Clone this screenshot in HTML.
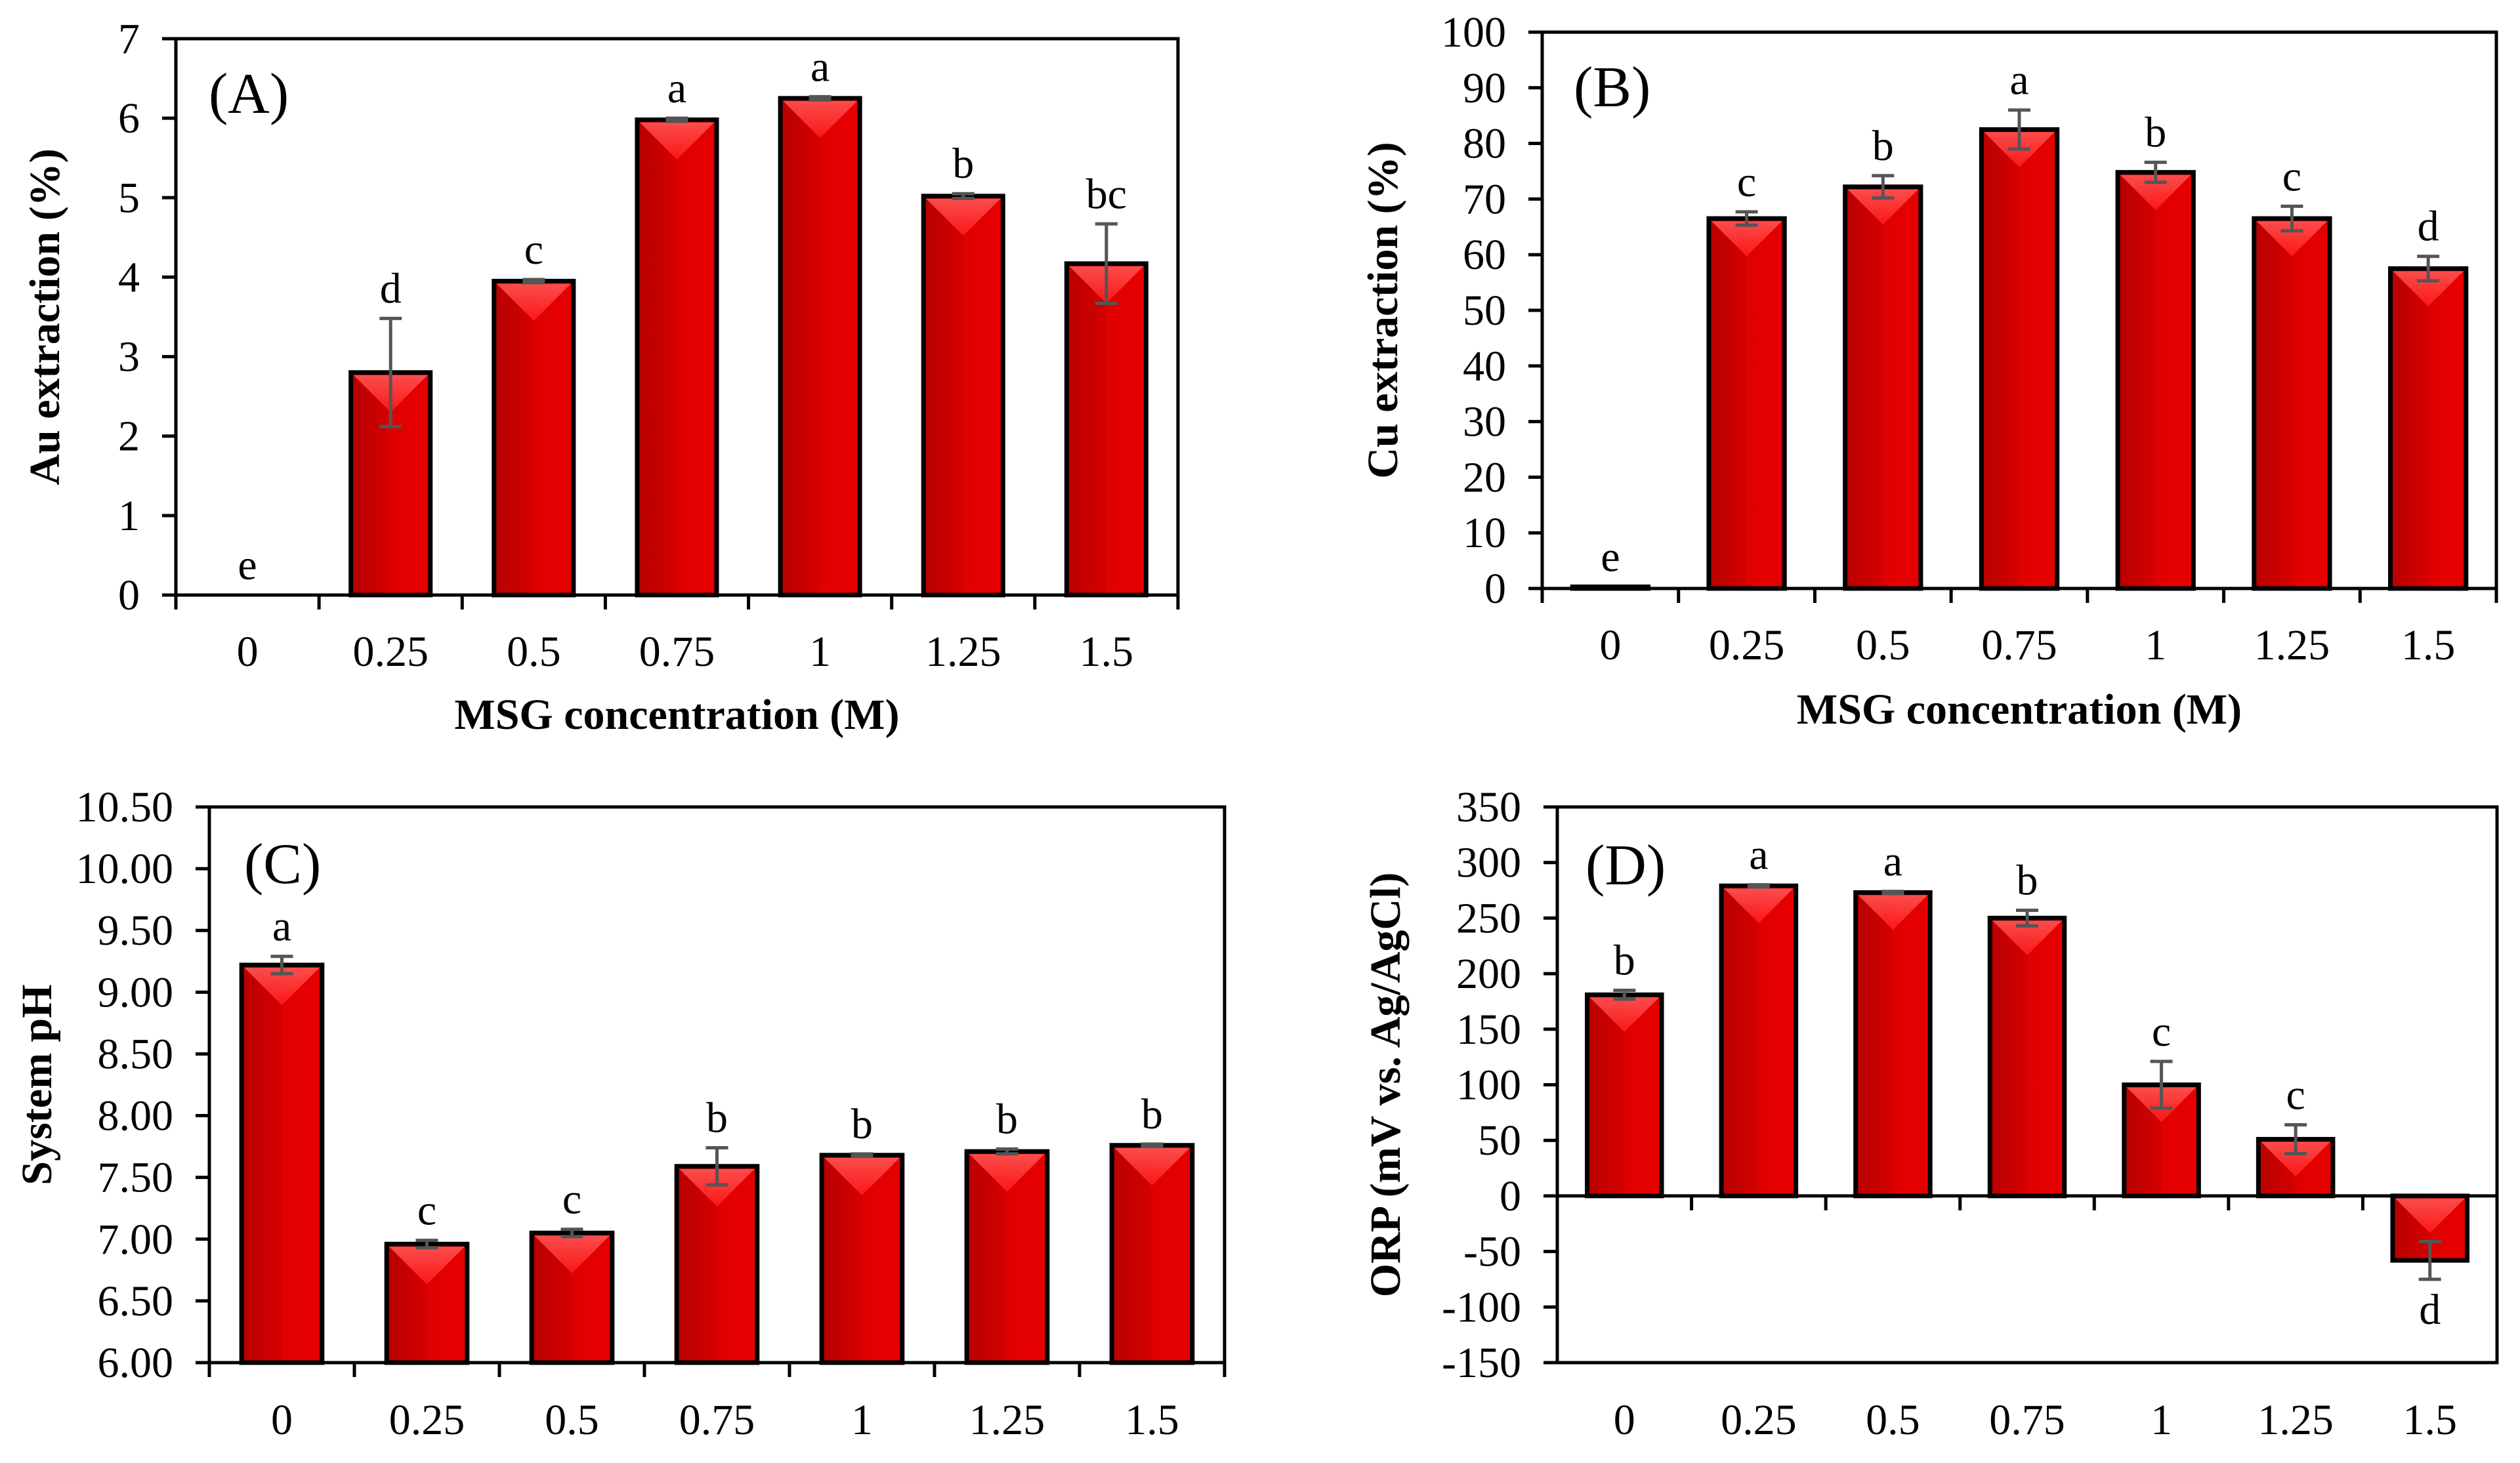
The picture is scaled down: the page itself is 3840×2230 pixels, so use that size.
<!DOCTYPE html>
<html><head><meta charset="utf-8"><style>
html,body{margin:0;padding:0;background:#fff;width:3840px;height:2230px;overflow:hidden;}
svg{display:block;font-family:"Liberation Serif",serif;}
</style></head><body>
<svg id="fig" width="3840" height="2230" viewBox="0 0 3840 2230" xmlns="http://www.w3.org/2000/svg">
<defs>
<linearGradient id="barg" x1="0" x2="1" y1="0" y2="0"><stop offset="0" stop-color="#b80000"/><stop offset="0.5" stop-color="#d40000"/><stop offset="0.5" stop-color="#e00000"/><stop offset="1" stop-color="#e60000"/></linearGradient>
<linearGradient id="topg" x1="0" x2="0" y1="0" y2="1"><stop offset="0" stop-color="#ff5555"/><stop offset="1" stop-color="#ff1a1a"/></linearGradient>
</defs>
</svg>
<script>
const categories = ["0","0.25","0.5","0.75","1","1.25","1.5"];
const auValues = [0, 2.8, 3.95, 5.98, 6.25, 5.02, 4.17];
const auErrors = [0, 0.68, 0.02, 0.02, 0.02, 0.03, 0.5];
const auLetters = ["e","d","c","a","a","b","bc"];
const auTicks = ["0","1","2","3","4","5","6","7"];
const cuValues = [0.3, 66.5, 72.2, 82.5, 74.8, 66.5, 57.5];
const cuErrors = [0, 1.2, 2.0, 3.5, 1.8, 2.2, 2.2];
const cuLetters = ["e","c","b","a","b","c","d"];
const cuTicks = ["0","10","20","30","40","50","60","70","80","90","100"];
const phValues = [9.22, 6.96, 7.05, 7.59, 7.68, 7.71, 7.76];
const phErrors = [0.07, 0.03, 0.03, 0.15, 0.01, 0.02, 0.01];
const phLetters = ["a","c","c","b","b","b","b"];
const phTicks = ["6.00","6.50","7.00","7.50","8.00","8.50","9.00","9.50","10.00","10.50"];
const orpValues = [181, 279, 273, 250, 100, 51, -58];
const orpErrors = [4, 1, 1, 7, 21, 13, 17];
const orpLetters = ["b","a","a","b","c","c","d"];
const orpTicks = ["-150","-100","-50","0","50","100","150","200","250","300","350"];

const NS = "http://www.w3.org/2000/svg";
const svg = document.getElementById("fig");
function mk(tag, attrs, parent, text){
  const e = document.createElementNS(NS, tag);
  for (const k in attrs) e.setAttribute(k, attrs[k]);
  if (text !== undefined) e.textContent = text;
  (parent || svg).appendChild(e);
  return e;
}

function panel(cfg){
  const g = mk("g", {});
  
  
  const L = cfg.left, R = cfg.right, T = cfg.top, B = cfg.bottom;
  const n = categories.length, cw = (R - L) / n;
  const y = v => B - (v - cfg.min) / (cfg.max - cfg.min) * (B - T);
  const x = i => L + cw * (i + 0.5);
  const base = cfg.min > 0 ? cfg.min : 0;
  const y0 = y(base);
  const bw = cw * 0.555;
  cfg.values.forEach((v, i) => {
    const bg = mk("g", {}, g);
    
    
    const yt = Math.min(y(v), y0), yb = Math.max(y(v), y0), h = yb - yt;
    if (h < 2) { mk("line", {x1:x(i)-bw/2, x2:x(i)+bw/2, y1:y0, y2:y0, stroke:"#000", "stroke-width":5}, bg); return; }
    mk("rect", {x:x(i)-bw/2, y:yt, width:bw, height:h, fill:"url(#barg)"}, bg);
    const d = Math.min(bw/2, h-4);
    mk("polygon", {points:`${x(i)-bw/2+4},${yt+4} ${x(i)+bw/2-4},${yt+4} ${x(i)},${yt+d}`, fill:"url(#topg)", opacity:0.9}, bg);
    mk("rect", {x:x(i)-bw/2, y:yt, width:bw, height:h, fill:"none", stroke:"#000", "stroke-width":7}, bg);
  });
  cfg.values.forEach((v, i) => {
    const e = cfg.errors[i];
    if (e <= 0) return;
    const eg = mk("g", {stroke:"#555", "stroke-width":5}, g);
    
    
    mk("line", {x1:x(i), x2:x(i), y1:y(v+e), y2:y(v-e)}, eg);
    mk("line", {x1:x(i)-17, x2:x(i)+17, y1:y(v+e), y2:y(v+e)}, eg);
    mk("line", {x1:x(i)-17, x2:x(i)+17, y1:y(v-e), y2:y(v-e)}, eg);
  });
  cfg.values.forEach((v, i) => {
    const e = cfg.errors[i];
    let ty;
    if (v >= base) ty = y(v + e) - 24; else ty = y(v - e) + 68;
    const t = mk("text", {x:x(i), y:ty, "text-anchor":"middle", "font-size":66}, g, cfg.letters[i]);
    
    
  });
  const fr = mk("rect", {x:L, y:T, width:R-L, height:B-T, fill:"none", stroke:"#000", "stroke-width":5}, g);
  
  
  if (cfg.min < 0) mk("line", {x1:L, x2:R, y1:y0, y2:y0, stroke:"#000", "stroke-width":5}, g);
  cfg.ticks.forEach(tl => {
    const v = parseFloat(tl), yy = y(v);
    mk("line", {x1:L-21, x2:L, y1:yy, y2:yy, stroke:"#000", "stroke-width":5}, g);
    const t = mk("text", {x:L-55, y:yy+22, "text-anchor":"end", "font-size":66}, g, tl);
    
    
  });
  for (let i = 0; i <= n; i++) {
    mk("line", {x1:L+cw*i, x2:L+cw*i, y1:y0, y2:y0+22, stroke:"#000", "stroke-width":5}, g);
  }
  categories.forEach((c, i) => {
    const t = mk("text", {x:x(i), y:cfg.xLabelY+23, "text-anchor":"middle", "font-size":66}, g, c);
    
    
  });
  const yt = mk("text", {x:0, y:0, "text-anchor":"middle", "font-size":66, "font-weight":"bold", transform:`translate(${cfg.yTitleX+23},${(T+B)/2}) rotate(-90)`}, g, cfg.yTitle);
  
  
  if (cfg.xTitle) {
    const xt = mk("text", {x:(L+R)/2, y:cfg.xTitleY+23, "text-anchor":"middle", "font-size":66, "font-weight":"bold"}, g, cfg.xTitle);
    
    
  }
  const pl = mk("text", {x:cfg.labelX, y:cfg.labelY, "font-size":88}, g, cfg.label);
  
  
}

panel({name:"panel-a-au-extraction", key:"a", left:268, right:1795, top:59, bottom:907, min:0, max:7,
  values:auValues, errors:auErrors, letters:auLetters, ticks:auTicks, xLabelY:992, yTitle:"Au extraction (%)", yTitleX:67,
  xTitle:"MSG concentration (M)", xTitleY:1088, label:"(A)", labelX:318, labelY:172});
panel({name:"panel-b-cu-extraction", key:"b", left:2350, right:3804, top:49, bottom:897, min:0, max:100,
  values:cuValues, errors:cuErrors, letters:cuLetters, ticks:cuTicks, xLabelY:982, yTitle:"Cu extraction (%)", yTitleX:2106,
  xTitle:"MSG concentration (M)", xTitleY:1080, label:"(B)", labelX:2398, labelY:162});
panel({name:"panel-c-system-ph", key:"c", left:319, right:1866, top:1230, bottom:2077, min:6, max:10.5,
  values:phValues, errors:phErrors, letters:phLetters, ticks:phTicks, xLabelY:2163, yTitle:"System pH", yTitleX:55,
  xTitle:null, label:"(C)", labelX:372, labelY:1346});
panel({name:"panel-d-orp", key:"d", left:2373, right:3805, top:1230, bottom:2077, min:-150, max:350,
  values:orpValues, errors:orpErrors, letters:orpLetters, ticks:orpTicks, xLabelY:2163, yTitle:"ORP (mV vs. Ag/AgCl)", yTitleX:2110,
  xTitle:null, label:"(D)", labelX:2416, labelY:1348});
</script>
</body></html>
